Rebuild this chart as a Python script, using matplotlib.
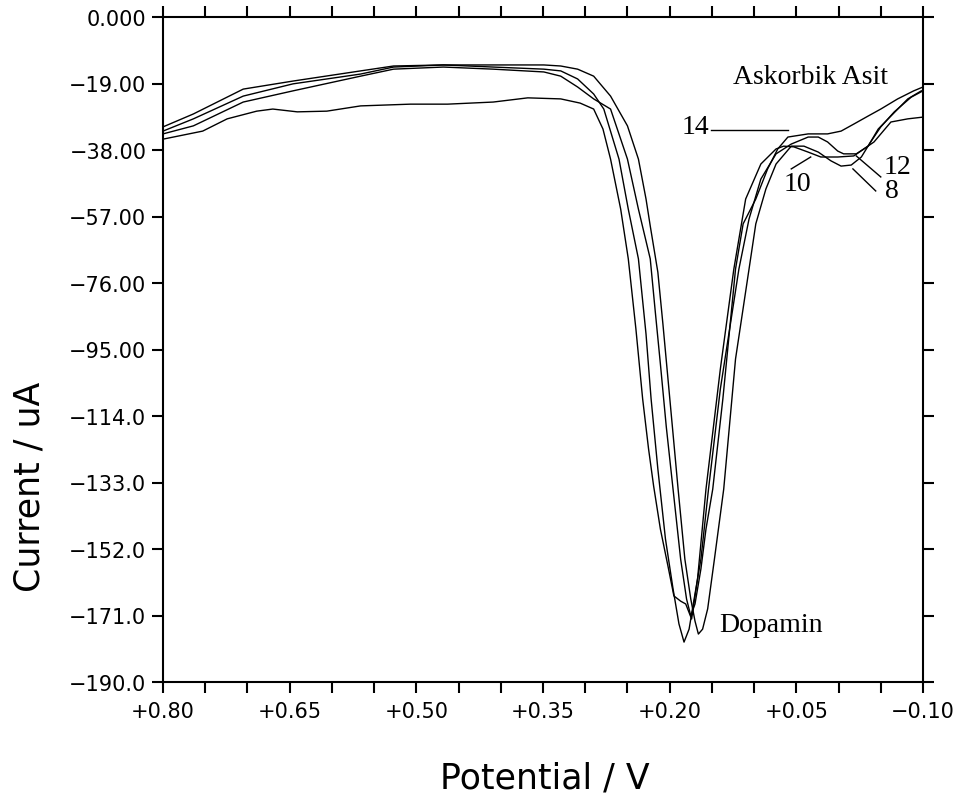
import matplotlib
matplotlib.use("Agg")
import matplotlib.pyplot as plt

# ---------------- data ----------------
# Potential (V) / current (uA) for the four DPV scans
pot_a = [0.800, 0.764, 0.705, 0.646, 0.566, 0.527, 0.468, 0.409, 0.349, 0.329, 0.309, 0.290, 0.278,
         0.260, 0.249, 0.237, 0.228, 0.222, 0.214, 0.205, 0.196, 0.189, 0.183, 0.177, 0.172, 0.163,
         0.154, 0.140, 0.118, 0.106, 0.092, 0.074, 0.056, 0.036, 0.024, 0.013, 0.001, -0.006, -0.021,
         -0.035, -0.047, -0.062, -0.082, -0.098]
cur_a = [-31.4, -27.7, -20.6, -18.3, -15.4, -14.0, -13.7, -14.3, -14.9, -15.4, -17.7, -22.0, -26.3,
         -40.6, -54.9, -69.1, -90.6, -109.1, -129.1, -149.1, -163.4, -173.4, -178.6, -174.9, -167.7, -154.9,
         -134.9, -106.3, -72.0, -57.7, -46.3, -39.1, -36.3, -34.3, -34.3, -35.7, -38.3, -39.1, -39.1,
         -36.9, -32.0, -28.3, -23.4, -21.1]

pot_b = [0.800, 0.753, 0.724, 0.689, 0.670, 0.641, 0.606, 0.566, 0.507, 0.463, 0.409, 0.368, 0.329,
         0.306, 0.290, 0.279, 0.270, 0.258, 0.249, 0.240, 0.232, 0.225, 0.219, 0.211, 0.202, 0.195,
         0.187, 0.181, 0.174, 0.167, 0.157, 0.140, 0.124, 0.110, 0.092, 0.074, 0.065, 0.053, 0.036,
         0.021, 0.001, -0.018, -0.042, -0.062, -0.082, -0.100]
cur_b = [-34.9, -32.6, -29.1, -26.9, -26.3, -27.1, -26.9, -25.4, -24.9, -24.9, -24.3, -23.1, -23.4,
         -24.6, -26.3, -32.0, -40.6, -54.9, -69.1, -89.1, -109.1, -123.4, -134.0, -146.3, -156.9, -165.4,
         -166.9, -167.7, -172.0, -160.6, -134.9, -100.6, -72.0, -52.0, -42.0, -37.7, -36.9, -37.1, -38.6,
         -40.0, -40.0, -39.7, -35.7, -30.0, -29.1, -28.6]

pot_c = [0.800, 0.764, 0.705, 0.646, 0.566, 0.527, 0.468, 0.409, 0.349, 0.329, 0.309, 0.290, 0.270,
         0.250, 0.237, 0.223, 0.217, 0.211, 0.204, 0.196, 0.187, 0.180, 0.175, 0.170, 0.163, 0.157, 0.149,
         0.137, 0.122, 0.113, 0.098, 0.084, 0.072, 0.060, 0.036, 0.013, -0.003, -0.018, -0.035, -0.050,
         -0.070, -0.089, -0.100]
cur_c = [-33.4, -31.1, -24.3, -21.1, -16.9, -14.9, -14.3, -14.9, -15.7, -16.9, -20.0, -23.4, -26.3,
         -40.6, -54.9, -69.1, -84.3, -99.1, -117.1, -134.9, -154.9, -166.3, -171.1, -167.7, -157.7, -146.3, -134.9,
         -109.1, -72.0, -59.1, -52.0, -43.4, -37.7, -34.3, -33.4, -33.4, -32.6, -30.6, -28.3, -26.3,
         -23.4, -21.1, -20.0]

pot_d = [0.800, 0.764, 0.705, 0.646, 0.566, 0.527, 0.468, 0.409, 0.349, 0.329, 0.309, 0.290, 0.270,
         0.250, 0.237, 0.228, 0.223, 0.214, 0.208, 0.202, 0.196, 0.190, 0.182, 0.175, 0.170, 0.166,
         0.161, 0.155, 0.147, 0.136, 0.122, 0.106, 0.098, 0.086, 0.074, 0.056, 0.041, 0.024, 0.009,
         -0.003, -0.015, -0.027, -0.038, -0.050, -0.066, -0.086, -0.100]
cur_d = [-32.6, -29.1, -22.6, -19.1, -16.3, -14.3, -13.7, -13.7, -13.7, -14.0, -14.9, -16.9, -22.6,
         -31.1, -40.6, -52.0, -59.7, -72.9, -87.7, -103.4, -119.1, -134.9, -154.9, -166.3, -172.6, -176.3,
         -174.9, -169.1, -154.9, -134.9, -97.7, -72.0, -59.1, -49.1, -42.0, -36.9, -36.9, -38.6, -41.1,
         -42.6, -42.3, -40.0, -35.7, -31.4, -27.1, -22.9, -21.1]

series = [(pot_a, cur_a), (pot_b, cur_b), (pot_c, cur_c), (pot_d, cur_d)]

xtick_vals = [0.80, 0.65, 0.50, 0.35, 0.20, 0.05, -0.10]
xtick_labels = ["+0.80", "+0.65", "+0.50", "+0.35", "+0.20", "+0.05", "\u22120.10"]
xminor_vals = [0.75, 0.70, 0.60, 0.55, 0.45, 0.40, 0.30, 0.25, 0.15, 0.10, 0.00, -0.05]
ytick_vals = [0, -19, -38, -57, -76, -95, -114, -133, -152, -171, -190]
ytick_labels = ["0.000", "\u221219.00", "\u221238.00", "\u221257.00", "\u221276.00", "\u221295.00",
                "\u2212114.0", "\u2212133.0", "\u2212152.0", "\u2212171.0", "\u2212190.0"]

# annotations: (text, x, y)
peak_labels = [("Askorbik Asit", 0.033, -16.9), ("14", 0.169, -31.4), ("12", -0.070, -42.6),
               ("8", -0.063, -49.7), ("10", 0.049, -47.7), ("Dopamin", 0.080, -173.7)]
# leader lines: (x0, x1, y0, y1)
leaders = [(0.151, 0.060, -32.3, -32.3), (0.056, 0.033, -43.4, -40.0),
           (-0.021, -0.050, -39.7, -45.7), (-0.017, -0.044, -43.4, -49.7)]

# ---------------- figure ----------------
W, H = 964, 804
fig = plt.figure(figsize=(W / 100, H / 100), dpi=100)
ax = fig.add_axes([163 / W, 1 - 683 / H, 760 / W, 665 / H])

for xs, ys in series:
    ax.plot(xs, ys, color="black", lw=1.0)

for x0, x1, y0, y1 in leaders:
    ax.plot([x0, x1], [y0, y1], color="black", lw=1.0)

for txt, x, y in peak_labels:
    ax.text(x, y, txt, ha="center", va="center", fontsize=20,
            family=["Liberation Serif", "DejaVu Serif"], color="black")

ax.set_xlim(0.80, -0.10)
ax.set_ylim(-190, 0)
ax.set_xticks(xtick_vals)
ax.set_xticklabels(xtick_labels)
ax.set_xticks(xminor_vals, minor=True)
ax.set_yticks(ytick_vals)
ax.set_yticklabels(ytick_labels)

for s in ax.spines.values():
    s.set_linewidth(1.5)
ax.tick_params(which="both", direction="out", length=8, width=1.5, top=True, right=True,
               labeltop=False, labelright=False)
ax.tick_params(axis="x", which="major", labelsize=15, pad=6)
ax.tick_params(axis="y", which="major", labelsize=15, pad=4)

fig.text(30 / W, 1 - 487 / H, "Current / uA", rotation=90, ha="center", va="center", fontsize=25)
fig.text(545 / W, 1 - 779 / H, "Potential / V", ha="center", va="center", fontsize=25)

fig.savefig("out.png", dpi=100)
